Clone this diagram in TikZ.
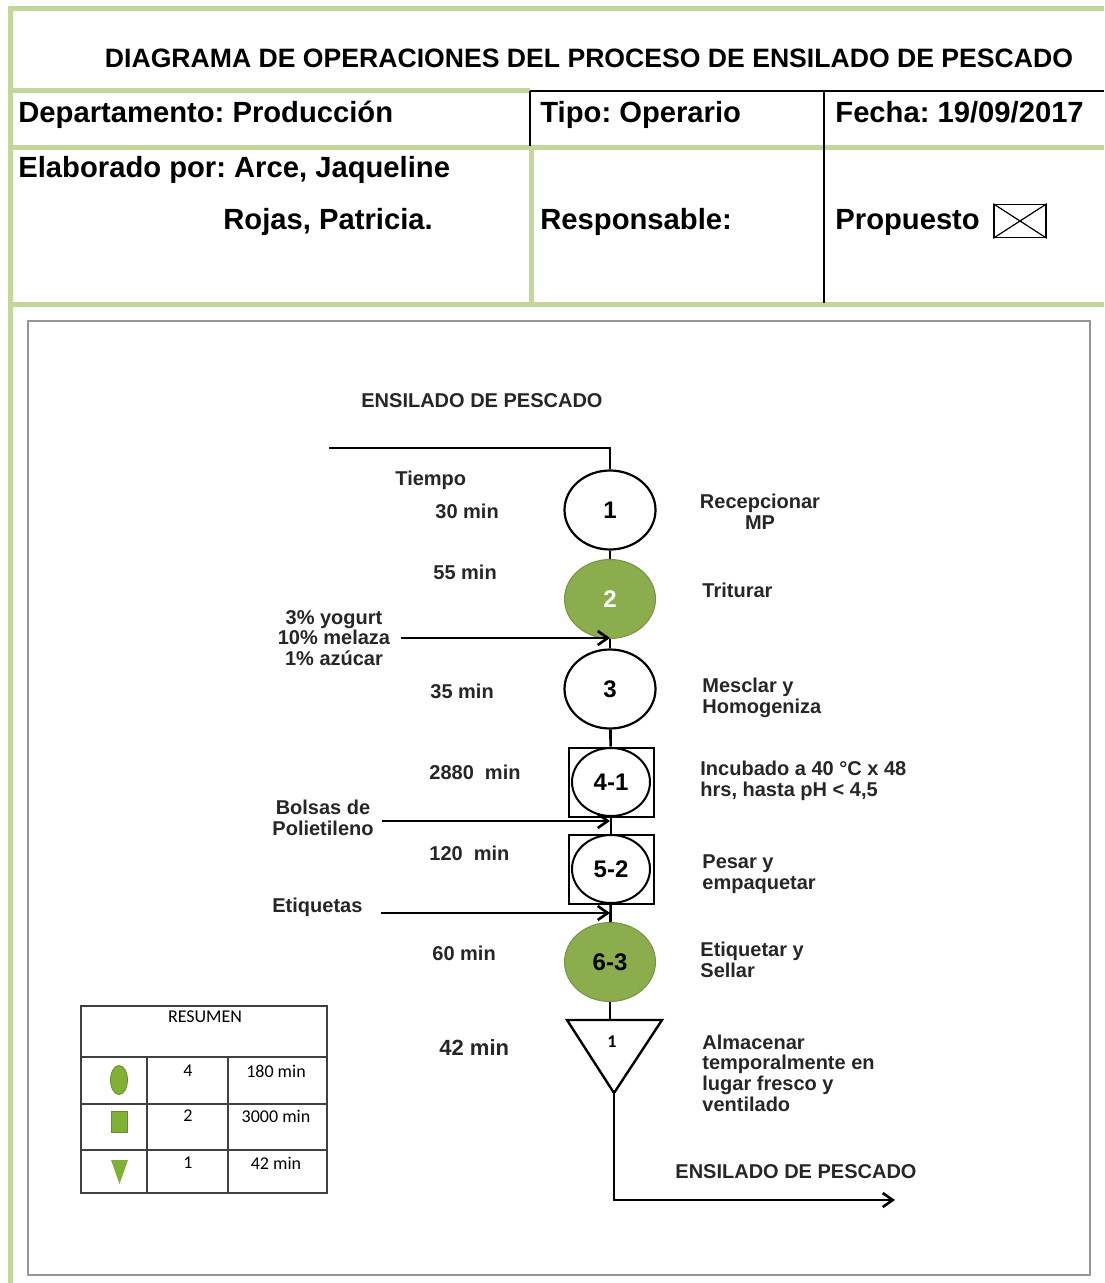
\documentclass[tikz,border=0pt]{standalone}
\usepackage{fontspec}
\setmainfont{Liberation Sans}
\newfontfamily\resfont{Carlito}
\usetikzlibrary{shapes.geometric,arrows.meta}
\frenchspacing

\definecolor{verdemarco}{RGB}{196,215,155}
\definecolor{verdeop}{RGB}{139,173,77}
\definecolor{verdesim}{RGB}{128,176,52}
\definecolor{grismarco}{RGB}{150,150,150}

\tikzset{
  marco/.style={draw=verdemarco, line width=2.5pt},
  celda/.style={anchor=base west, inner sep=0pt, font=\bfseries\fontsize{14.6}{17}\selectfont},
  oper/.style={draw, ellipse, line width=1.1pt, minimum width=45.5pt, minimum height=39.5pt, inner sep=0pt, font=\bfseries\fontsize{12}{14}\selectfont},
  operv/.style={oper, draw=verdeop!85!black, line width=0.5pt, fill=verdeop},
  caja/.style={draw, rectangle, line width=1pt, minimum width=42.5pt, minimum height=34.5pt},
  opcaja/.style={draw, ellipse, line width=1pt, minimum width=39pt, minimum height=34pt, inner sep=0pt, font=\bfseries\fontsize{12}{14}\selectfont},
  etiq/.style={anchor=west, inner sep=0pt, font=\bfseries\fontsize{10}{10.3}\selectfont, text=black!85, align=left},
  linea/.style={draw, line width=1.3pt},
  flecha/.style={linea, -{Straight Barb[length=5pt,width=7pt]}},
  resumen/.style={font=\resfont\fontsize{9}{10}\selectfont, inner sep=0pt},
  tabla/.style={draw=black!75, line width=0.8pt},
}

\begin{document}
\begin{tikzpicture}[x=0.5pt,y=-0.5pt]
\useasboundingbox (0,0) rectangle (1104,1283);

% encabezado
\draw[marco] (8,9) -- (1104,9);
\draw[marco] (10,7) -- (10,1283);
\draw[marco] (10,91) -- (530,91);
\draw[marco] (10,148) -- (1104,148);
\draw[marco] (10,305) -- (1104,305);
\draw[marco] (531,148) -- (531,305);
\draw[line width=1pt] (530,91) -- (1104,91);
\draw[line width=1pt] (530,91) -- (530,146);
\draw[line width=1pt] (824,91) -- (824,303);

\node[font=\bfseries\fontsize{13.3}{15}\selectfont] (titulo) at (589,58) {DIAGRAMA DE OPERACIONES DEL PROCESO DE ENSILADO DE PESCADO};
\node[celda] (depto) at (18,123) {Departamento: Producción};
\node[celda] (tipo) at (540,123) {Tipo: Operario};
\node[celda] (fecha) at (835,123) {Fecha: 19/09/2017};
\node[celda] (elab) at (18,178) {Elaborado por: Arce, Jaqueline};
\node[celda] (elab2) at (223,230) {Rojas, Patricia.};
\node[celda] (resp) at (540,230) {Responsable:};
\node[celda] (prop) at (835,230) {Propuesto};
\node[draw, line width=0.8pt, minimum width=26pt, minimum height=16.5pt, inner sep=0pt] (cajaprop) at (1020,221) {};
\draw[line width=0.6pt] (cajaprop.north west) -- (cajaprop.south east);
\draw[line width=0.6pt] (cajaprop.south west) -- (cajaprop.north east);

% diagrama
\draw[grismarco, line width=1pt] (28,321) rectangle (1090,1275);

\node[etiq] (tit1) at (361,401) {ENSILADO DE PESCADO};
\coordinate (entrada) at (329,448);
\node[oper] (op1) at (610,510) {1};
\node[operv, text=white] (op2) at (610,599) {2};
\node[oper] (op3) at (610,689) {3};
\node[caja] (cj4) at (611,782) {};
\node[opcaja] (op4) at (611,782) {4-1};
\node[caja] (cj5) at (611,869) {};
\node[opcaja] (op5) at (611,869) {5-2};
\node[operv] (op6) at (610,962) {6-3};
\draw[line width=1.2pt] (567,1020) -- (662,1020) -- (614,1093) -- cycle;
\coordinate (almtop) at (610,1020);
\coordinate (alm) at (614,1093);
\node[resumen, font=\resfont\bfseries\fontsize{9}{9}\selectfont] (alm1) at (612,1042) {1};
\coordinate (salida) at (895,1200);

\path[linea] (entrada) -| (op1.north);
\path[linea] (op1) -- (op2);
\path[linea] (op2) -- (op3);
\path[linea] (op3) -- (cj4);
\path[linea] (cj4) -- (cj5);
\path[linea] (cj5) -- (op6);
\path[linea] (op6) -- (almtop);
\path[flecha] (alm) |- (salida);

% insumos
\node[etiq, align=center, anchor=center] (ins1) at (334,638) {3\% yogurt\\10\% melaza\\1\% azúcar};
\node[etiq, align=center, anchor=center] (ins2) at (323,818) {Bolsas de\\Polietileno};
\node[etiq] (ins3) at (272,907) {Etiquetas};
\coordinate (e1) at (610,638);
\coordinate (e2) at (610,821);
\coordinate (e3) at (610,913);
\path[flecha, shorten <=5pt] (ins1.east) -- (e1);
\path[flecha, shorten <=4pt] (ins2.east |- e2) -- (e2);
\path[flecha, shorten <=9pt] (ins3.east |- e3) -- (e3);

% tiempos
\node[etiq] (tiempo) at (395,480) {Tiempo};
\node[etiq] (t1) at (435,511) {30 min};
\node[etiq] (t2) at (433,572) {55 min};
\node[etiq] (t3) at (430,691) {35 min};
\node[etiq] (t4) at (429,772) {2880\ \ min};
\node[etiq] (t5) at (429,853) {120\ \ min};
\node[etiq] (t6) at (432,953) {60 min};
\node[etiq, font=\bfseries\fontsize{11}{11}\selectfont] (t7) at (439,1048) {42 min};

% actividades
\node[etiq, align=center, anchor=center] (d1) at (760,512) {Recepcionar\\MP};
\node[etiq] (d2) at (702,590) {Triturar};
\node[etiq] (d3) at (702,698) {Mesclar y\\Homogeniza};
\node[etiq] (d4) at (700,781) {Incubado a 40 °C x 48\\hrs, hasta pH < 4,5};
\node[etiq] (d5) at (702,874) {Pesar y\\empaquetar};
\node[etiq] (d6) at (700,960) {Etiquetar y\\Sellar};
\node[etiq] (d7) at (702,1073) {Almacenar\\temporalmente en\\lugar fresco y\\ventilado};
\node[etiq] (tit2) at (675,1172) {ENSILADO DE PESCADO};

% resumen
\draw[tabla] (81,1006) rectangle (327,1193);
\draw[tabla] (81,1057) -- (327,1057);
\draw[tabla] (81,1104) -- (327,1104);
\draw[tabla] (81,1150) -- (327,1150);
\draw[tabla] (147,1057) -- (147,1193);
\draw[tabla] (228,1057) -- (228,1193);
\node[resumen] (resumen) at (205,1017) {RESUMEN};
\node[resumen] (n1) at (188,1071) {4};
\node[resumen] (m1) at (276,1071) {180 min};
\node[resumen] (n2) at (188,1116) {2};
\node[resumen] (m2) at (276,1116) {3000 min};
\node[resumen] (n3) at (188,1163) {1};
\node[resumen] (m3) at (276,1163) {42 min};
\node[ellipse, fill=verdesim, draw=verdesim!80!black, minimum width=8.5pt, minimum height=14.5pt, inner sep=0pt] (simop) at (119,1080) {};
\node[rectangle, fill=verdesim, draw=verdesim!80!black, minimum width=8pt, minimum height=10.5pt, inner sep=0pt] (simins) at (119,1122) {};
\fill[verdesim] (111,1160) -- (128,1160) -- (119.5,1184) -- cycle;
\end{tikzpicture}
\end{document}
